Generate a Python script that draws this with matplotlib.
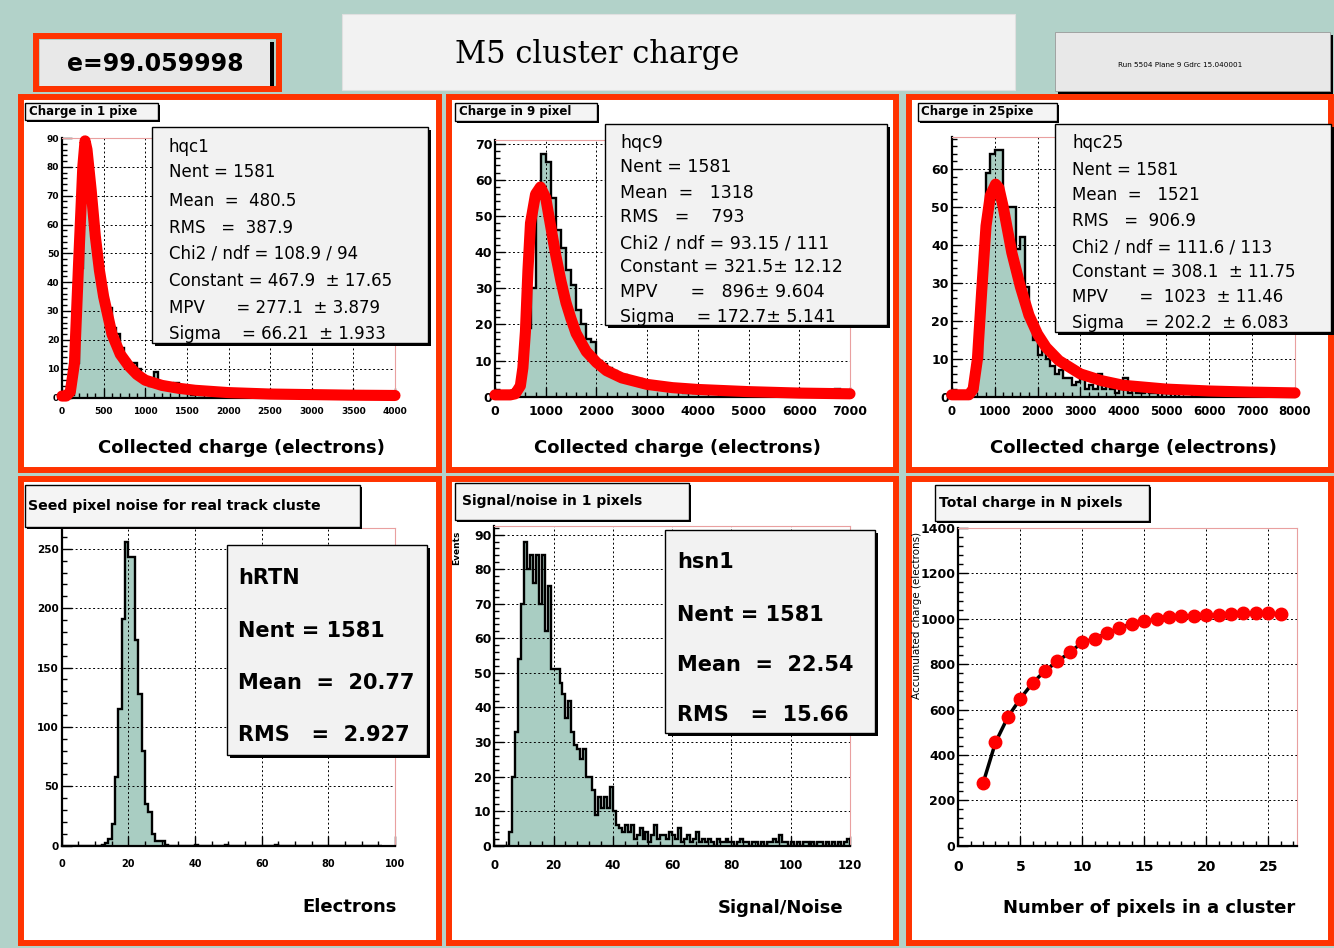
import numpy as np
import matplotlib
matplotlib.use("Agg")
import matplotlib.pyplot as plt
from matplotlib.patches import Rectangle
from matplotlib.ticker import MultipleLocator, AutoMinorLocator

W, H = 1334, 948
CANVAS = "#b2d2c9"
TEAL = "#a9cdc2"
FRAME = "#ff3300"

# ---- histogram contents ----
hqc1_width = 50
hqc1 = [0, 0, 1, 12, 45, 70, 68, 58, 47, 38, 31, 31, 24, 22, 17, 13, 10, 12, 10, 7,
        6, 4, 9, 4, 3, 4, 3, 5, 2, 3, 2, 1, 2, 1, 2, 1, 1, 2, 1, 0,
        1, 1, 0, 1, 1, 0, 1, 1, 1, 0, 1, 0, 0, 1, 0, 0, 0, 0, 1, 0,
        0, 0, 0, 0, 1, 0, 0, 0, 0, 0, 0, 1, 0, 0, 0, 0, 0, 0, 0, 0]
fit1_x = [0, 50, 100, 150, 200, 250, 277, 300, 350, 400, 450, 500, 600, 700, 800,
          900, 1000, 1200, 1400, 1600, 2000, 2500, 3000, 3500, 4000]
fit1_y = [0.5, 0.5, 2, 12, 47, 80, 89, 86, 72, 56, 44, 35, 22, 15, 11,
          8, 6, 4.2, 3.2, 2.5, 1.7, 1.2, 1.0, 0.8, 0.7]

hqc9_width = 100
hqc9 = [0, 0, 0, 0, 1, 6, 19, 30, 55, 67, 65, 55, 46, 41, 35, 31, 24, 20, 16, 15,
        10, 9, 8, 7, 6, 6, 5, 4, 5, 3, 3, 3, 2, 3, 2, 2, 3, 1, 2, 1,
        2, 1, 1, 2, 1, 1, 1, 1, 1, 1, 2, 1, 0, 1, 0, 1, 0, 1, 0, 1,
        0, 1, 0, 0, 1, 0, 1, 2, 1, 0]
fit9_x = [0, 300, 400, 500, 550, 600, 650, 700, 800, 896, 1000, 1100, 1200, 1300, 1400,
          1500, 1600, 1800, 2000, 2200, 2500, 3000, 3500, 4000, 5000, 6000, 7000]
fit9_y = [0.5, 0.5, 0.8, 3, 8, 18, 35, 48, 56, 58, 55, 47, 39, 32, 26,
          21.5, 17.5, 12.5, 9.5, 7.2, 5.2, 3.4, 2.5, 2.0, 1.4, 1.0, 0.8]

hqc25_width = 100
hqc25 = [0, 0, 0, 0, 0, 2, 10, 30, 59, 64, 65, 65, 50, 50, 50, 39, 42, 29, 21, 15,
         11, 13, 10, 8, 6, 7, 5, 5, 3, 4, 6, 2, 3, 2, 6, 2, 3, 2, 1, 2,
         5, 1, 2, 1, 1, 2, 1, 1, 0, 1, 1, 0, 1, 0, 0, 0, 1, 0, 0, 1,
         0, 1, 0, 0, 0, 0, 0, 1, 0, 0, 1, 0, 0, 0, 0, 1, 0, 0, 0, 0]
fit25_x = [0, 400, 500, 600, 700, 800, 900, 1023, 1100, 1200, 1400, 1600, 1800, 2000,
           2200, 2500, 3000, 3500, 4000, 5000, 6000, 7000, 8000]
fit25_y = [0.5, 0.5, 2, 10, 28, 45, 53, 56, 55, 50, 38, 29, 21.5, 16.5,
           13, 9.5, 6, 4.2, 3.0, 2.0, 1.5, 1.2, 1.0]

hrtn_width = 1
hrtn = [0] * 12 + [1, 2, 6, 18, 58, 115, 191, 256, 243, 243, 173, 128, 80, 35, 28, 10,
                   4, 4, 4, 1, 0, 0, 0, 0, 0, 0, 0, 0, 1, 0, 0, 0, 0, 0, 0, 0,
                   0, 1, 0, 0, 0, 0, 0, 0, 0, 0, 0, 0, 0, 0, 0, 0, 1, 0, 0, 0,
                   0, 0, 0, 0, 0, 0, 0, 0, 0, 0, 0, 0, 0, 0, 0, 0, 0, 0, 0, 0,
                   0, 0, 0, 0, 0, 0, 0, 0]

hsn1_width = 1
hsn1 = [0, 0, 0, 0, 0, 4, 20, 33, 54, 70, 88, 80, 84, 76, 84, 70, 84, 62, 75, 51,
        51, 51, 47, 44, 37, 42, 33, 29, 28, 25, 28, 20, 20, 16, 9, 14, 11, 14, 11, 17,
        10, 6, 5, 4, 6, 4, 6, 2, 3, 5, 2, 4, 1, 3, 6, 2, 3, 3, 2, 4,
        3, 2, 5, 1, 2, 3, 1, 2, 4, 1, 2, 1, 2, 1, 0, 2, 1, 1, 2, 1,
        1, 0, 1, 2, 1, 1, 0, 1, 1, 0, 1, 0, 1, 1, 2, 1, 3, 1, 1, 0,
        1, 0, 1, 0, 1, 1, 0, 1, 0, 1, 1, 0, 1, 0, 1, 0, 1, 0, 1, 2]

npix = [2, 3, 4, 5, 6, 7, 8, 9, 10, 11, 12, 13, 14, 15, 16, 17, 18, 19, 20, 21,
        22, 23, 24, 25, 26]
qsum = [276, 455, 567, 648, 717, 771, 812, 852, 896, 912, 937, 959, 977, 989, 997,
        1006, 1011, 1011, 1015, 1015, 1021, 1025, 1025, 1025, 1021]

stats1 = ["hqc1", "Nent = 1581", "Mean  =  480.5", "RMS   =  387.9", "Chi2 / ndf = 108.9 / 94",
          "Constant = 467.9  ± 17.65", "MPV      = 277.1  ± 3.879", "Sigma    = 66.21  ± 1.933"]
stats9 = ["hqc9", "Nent = 1581", "Mean  =   1318", "RMS   =    793", "Chi2 / ndf = 93.15 / 111",
          "Constant = 321.5± 12.12", "MPV      =   896± 9.604", "Sigma    = 172.7± 5.141"]
stats25 = ["hqc25", "Nent = 1581", "Mean  =   1521", "RMS   =  906.9", "Chi2 / ndf = 111.6 / 113",
           "Constant = 308.1  ± 11.75", "MPV      =  1023  ± 11.46", "Sigma    = 202.2  ± 6.083"]
stats_rtn = ["hRTN", "Nent = 1581", "Mean  =  20.77", "RMS   =  2.927"]
stats_sn = ["hsn1", "Nent = 1581", "Mean  =  22.54", "RMS   =  15.66"]

fig = plt.figure(figsize=(W / 100, H / 100), dpi=100)
fig.patch.set_facecolor(CANVAS)


def fx(x):
    return x / W


def fy(y):
    return 1 - y / H


def rect(x0, y0, x1, y1, **kw):
    r = Rectangle((fx(x0), fy(y1)), (x1 - x0) / W, (y1 - y0) / H,
                  transform=fig.transFigure, **kw)
    fig.add_artist(r)
    return r


def pave(x0, y0, x1, y1, face="#f2f2f2", sh=3, z=5):
    rect(x0 + sh, y0 + sh, x1 + sh, y1 + sh, facecolor="black", edgecolor="none", zorder=z)
    rect(x0, y0, x1, y1, facecolor=face, edgecolor="black", lw=1.0, zorder=z + 0.1)


def txt(x, y, s, **kw):
    kw.setdefault("zorder", 7)
    kw.setdefault("va", "center")
    fig.text(fx(x), fy(y), s, **kw)


def make_axes(x0, y0, x1, y1, xlab, ylab, xpad, ypad=2):
    ax = fig.add_axes([fx(x0), fy(y1), (x1 - x0) / W, (y1 - y0) / H])
    ax.set_facecolor("none")
    for s in ("top", "right"):
        ax.spines[s].set_color("#e9a0a0")
        ax.spines[s].set_linewidth(0.8)
    for s in ("left", "bottom"):
        ax.spines[s].set_linewidth(1.6)
    ax.grid(True, color="black", ls=(0, (2, 2.5)), lw=0.7)
    ax.tick_params(which="both", direction="in", top=False, right=False, width=1.0)
    ax.tick_params(which="major", length=7)
    ax.tick_params(which="minor", length=3.5)
    ax.tick_params(axis="x", labelsize=xlab, pad=xpad)
    ax.tick_params(axis="y", labelsize=ylab, pad=ypad)
    return ax


def draw_hist(ax, counts, width):
    edges = np.arange(len(counts) + 1) * width
    ax.stairs(counts, edges, fill=True, color=TEAL, zorder=1)
    ax.stairs(counts, edges, color="black", lw=1.7, zorder=2.6)


def bold_ticks(ax):
    for lab in ax.get_xticklabels() + ax.get_yticklabels():
        lab.set_fontweight("bold")


# ---- header boxes ----
rect(342, 14, 1015, 90, facecolor="#f2f2f2", edgecolor="#e0e0e0", lw=0.8, zorder=-1)
txt(597, 55, "M5 cluster charge", ha="center", family="DejaVu Serif", fontsize=22)

rect(36, 36, 279, 89, facecolor="none", edgecolor=FRAME, lw=4.3, zorder=4)
rect(42, 42, 274, 88, facecolor="black", edgecolor="none", zorder=1)
rect(40, 40, 270, 86, facecolor="#e8e8e8", edgecolor="none", zorder=1.1)
txt(155, 64, "e=99.059998", ha="center", fontsize=17, fontweight="bold")

rect(1058, 35, 1333, 94, facecolor="black", edgecolor="none", zorder=1)
rect(1055, 32, 1330, 91, facecolor="#e8e8e8", edgecolor="#999999", lw=0.6, zorder=1.1)
txt(1180, 65, "Run 5504 Plane 9 Gdrc 15.040001", ha="center", fontsize=5.2)

# ---- pad frames ----
for (x0, y0, x1, y1) in [(21, 97, 439, 470), (449, 97, 896, 470), (909, 97, 1331, 470),
                         (21, 479, 439, 943), (449, 479, 896, 943), (909, 479, 1331, 943)]:
    rect(x0, y0, x1, y1, facecolor="white", edgecolor=FRAME, lw=4.3, zorder=-2)

# ---- top row: charge histograms with Landau fits ----
ax1 = make_axes(62, 138, 395, 397.5, 6.5, 6.5, 6.5)
draw_hist(ax1, hqc1, hqc1_width)
ax1.plot(fit1_x, fit1_y, color="red", lw=8, solid_capstyle="round", clip_on=False, zorder=3)
ax1.set_xlim(0, 4000)
ax1.set_ylim(0, 90)
ax1.xaxis.set_major_locator(MultipleLocator(500))
ax1.yaxis.set_major_locator(MultipleLocator(10))

ax2 = make_axes(495, 140, 850, 396.7, 9, 9, 6)
draw_hist(ax2, hqc9, hqc9_width)
ax2.plot(fit9_x, fit9_y, color="red", lw=8, solid_capstyle="round", clip_on=False, zorder=3)
ax2.set_xlim(0, 7000)
ax2.set_ylim(0, 71)
ax2.xaxis.set_major_locator(MultipleLocator(1000))
ax2.yaxis.set_major_locator(MultipleLocator(10))

ax3 = make_axes(951.7, 136.7, 1295, 396.7, 8.5, 9, 6)
draw_hist(ax3, hqc25, hqc25_width)
ax3.plot(fit25_x, fit25_y, color="red", lw=8, solid_capstyle="round", clip_on=False, zorder=3)
ax3.set_xlim(0, 8000)
ax3.set_ylim(0, 68.5)
ax3.xaxis.set_major_locator(MultipleLocator(1000))
ax3.yaxis.set_major_locator(MultipleLocator(10))

for ax in (ax1, ax2, ax3):
    ax.xaxis.set_minor_locator(AutoMinorLocator(5))
    ax.yaxis.set_minor_locator(AutoMinorLocator(5))
    bold_ticks(ax)

# ---- bottom row ----
ax4 = make_axes(61.7, 528, 395, 845.7, 7, 7.5, 9.5)
draw_hist(ax4, hrtn, hrtn_width)
ax4.set_xlim(0, 100)
ax4.set_ylim(0, 267.5)
ax4.xaxis.set_major_locator(MultipleLocator(20))
ax4.xaxis.set_minor_locator(AutoMinorLocator(4))
ax4.yaxis.set_major_locator(MultipleLocator(50))
ax4.yaxis.set_minor_locator(AutoMinorLocator(5))

ax5 = make_axes(494.3, 526.3, 850, 845.7, 8.5, 9, 9.5)
draw_hist(ax5, hsn1, hsn1_width)
ax5.set_xlim(0, 120)
ax5.set_ylim(0, 92.4)
ax5.xaxis.set_major_locator(MultipleLocator(20))
ax5.xaxis.set_minor_locator(AutoMinorLocator(5))
ax5.yaxis.set_major_locator(MultipleLocator(10))
ax5.yaxis.set_minor_locator(AutoMinorLocator(5))

ax6 = make_axes(958.3, 528, 1296.7, 845.7, 10, 9, 10)
ax6.plot(npix, qsum, color="black", lw=2.5, zorder=3)
ax6.plot(npix, qsum, "o", color="red", ms=9, mec="red", zorder=4, clip_on=False)
ax6.set_xlim(0, 27.3)
ax6.set_ylim(0, 1400)
ax6.xaxis.set_major_locator(MultipleLocator(5))
ax6.xaxis.set_minor_locator(AutoMinorLocator(5))
ax6.yaxis.set_major_locator(MultipleLocator(200))
ax6.yaxis.set_minor_locator(AutoMinorLocator(5))

for ax in (ax4, ax5, ax6):
    bold_ticks(ax)

# ---- titles (TPaveText) ----
for (x0, y0, x1, y1, s, fs, tx) in [
        (25, 103, 158, 120, "Charge in 1 pixe", 8.5, 29),
        (455, 103, 597, 121, "Charge in 9 pixel", 8.5, 459),
        (918, 103, 1057, 121, "Charge in 25pixe", 8.5, 921),
        (25, 485, 360, 527, "Seed pixel noise for real track cluste", 10.2, 28),
        (455, 483, 689, 520, "Signal/noise in 1 pixels", 10, 462),
        (935, 485, 1149, 521, "Total charge in N pixels", 10, 939)]:
    pave(x0, y0, x1, y1, face="#f4f4f4", sh=2, z=5)
    txt(tx, (y0 + y1) / 2, s, fontsize=fs, fontweight="bold")

# ---- stats boxes ----
pave(152, 127, 428, 343)
for s, y in zip(stats1, [147, 172, 201, 228, 254, 281, 308, 334]):
    txt(169, y, s, fontsize=12)

pave(605, 124, 887, 325)
for s, y in zip(stats9, [143, 167, 193, 217, 243, 267, 292, 317]):
    txt(620, y, s, fontsize=12.5)

pave(1055, 124, 1331, 332)
for s, y in zip(stats25, [143, 170, 195, 221, 247, 272, 297, 323]):
    txt(1072, y, s, fontsize=12)

pave(227, 545, 427, 755)
for s, y in zip(stats_rtn, [578, 631, 683, 735]):
    txt(238, y, s, fontsize=15, fontweight="bold")

pave(665, 530, 875, 733)
for s, y in zip(stats_sn, [562, 615, 665, 715]):
    txt(677, y, s, fontsize=15, fontweight="bold")

# ---- axis titles ----
for xc in (241, 677, 1133):
    txt(xc, 448, "Collected charge (electrons)", ha="center", fontsize=13, fontweight="bold")
txt(397, 907, "Electrons", ha="right", fontsize=13, fontweight="bold")
txt(843, 908, "Signal/Noise", ha="right", fontsize=13, fontweight="bold")
txt(1295, 908, "Number of pixels in a cluster", ha="right", fontsize=13, fontweight="bold")
txt(457, 548, "Events", ha="center", rotation=90, fontsize=6.5, fontweight="bold")
txt(917, 615, "Accumulated charge (electrons)", ha="center", rotation=90, fontsize=7.5)

fig.savefig("out.png", dpi=100, facecolor=fig.get_facecolor())
